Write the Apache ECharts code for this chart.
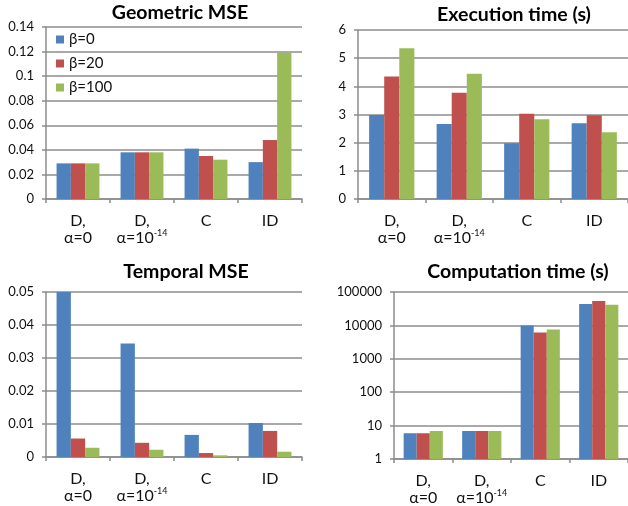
<!DOCTYPE html>
<html><head><meta charset="utf-8">
<script src="https://cdn.jsdelivr.net/npm/echarts@6/dist/echarts.min.js"></script>
<style>html,body{margin:0;padding:0;background:#fff}#c{width:628px;height:506px}</style>
</head><body><div id="c"></div>
<script>
var categories = ['D,\nα=0', 'D,\nα=10^-14', 'C', 'ID'];
var seriesNames = ['β=0', 'β=20', 'β=100'];
var colors = ['#4F81BD', '#C0504D', '#9BBB59'];
var titles = ['Geometric MSE', 'Execution time (s)', 'Temporal MSE', 'Computation time (s)'];

var geoB0 = [0.029, 0.038, 0.041, 0.030];
var geoB20 = [0.029, 0.038, 0.035, 0.048];
var geoB100 = [0.029, 0.038, 0.032, 0.119];

var exeB0 = [2.98, 2.66, 1.98, 2.69];
var exeB20 = [4.35, 3.77, 3.03, 2.97];
var exeB100 = [5.35, 4.45, 2.83, 2.37];

var tmpB0 = [0.050, 0.0344, 0.0067, 0.0103];
var tmpB20 = [0.0056, 0.0043, 0.0012, 0.0079];
var tmpB100 = [0.0028, 0.0022, 0.0005, 0.0016];

var cmpB0 = [5.9, 6.9, 10000, 44000];
var cmpB20 = [5.9, 6.9, 6100, 54000];
var cmpB100 = [6.9, 6.9, 7600, 41500];

var geoTicks = {min: 0, max: 0.14, interval: 0.02};
var exeTicks = {min: 0, max: 6, interval: 1};
var tmpTicks = {min: 0, max: 0.05, interval: 0.01};
var cmpTicks = {min: 1, max: 100000};

var FONT = 'Lato';
var gridColor = '#8c8c8c';

var grids = [
  {left: 46, top: 27, width: 256, height: 172},
  {left: 358, top: 30, width: 270, height: 169},
  {left: 46, top: 292, width: 256, height: 165},
  {left: 394, top: 292, width: 234, height: 167}
];
var titlePos = [[180, 3], [514, 5], [186, 262], [518, 262]];

function catFormatter(v) {
  return v.replace('^-14', '{sup|-14}');
}

var xAxes = [], yAxes = [], series = [], titleArr = [];
var data = [[geoB0, geoB20, geoB100], [exeB0, exeB20, exeB100], [tmpB0, tmpB20, tmpB100], [cmpB0, cmpB20, cmpB100]];
var ticks = [geoTicks, exeTicks, tmpTicks, cmpTicks];

for (var i = 0; i < 4; i++) {
  titleArr.push({
    text: titles[i], left: titlePos[i][0], top: titlePos[i][1], textAlign: 'center', padding: 0,
    textStyle: {fontFamily: FONT, fontWeight: 'bold', fontSize: 19.5, color: '#000'}
  });
  xAxes.push({
    type: 'category', gridIndex: i, data: categories,
    axisLine: {lineStyle: {color: gridColor, width: 1.5}},
    axisTick: {show: true, length: 4, lineStyle: {color: gridColor, width: 1.5}},
    axisLabel: {
      interval: 0, hideOverlap: false,
      fontFamily: FONT, fontSize: 16, color: '#111', lineHeight: 17, margin: 13,
      formatter: catFormatter,
      rich: {sup: {fontFamily: FONT, fontSize: 9, color: '#111', padding: [0, 0, 8, 0]}}
    }
  });
  var y = {
    gridIndex: i,
    min: ticks[i].min, max: ticks[i].max,
    axisLine: {show: true, lineStyle: {color: gridColor, width: 1.5}},
    axisTick: {show: true, length: 4, lineStyle: {color: gridColor, width: 1.5}},
    splitLine: {show: true, lineStyle: {color: gridColor, width: 1.5}},
    axisLabel: {fontFamily: FONT, fontSize: 13, color: '#111', margin: 12}
  };
  if (i === 3) {
    y.type = 'log'; y.logBase = 10;
    y.axisLabel.formatter = function (v) { return String(Math.round(v)); };
  } else {
    y.type = 'value'; y.interval = ticks[i].interval;
    y.axisLabel.formatter = function (v) { return String(+v.toFixed(4)); };
  }
  yAxes.push(y);
  for (var s = 0; s < 3; s++) {
    series.push({
      type: 'bar', name: seriesNames[s], xAxisIndex: i, yAxisIndex: i,
      data: data[i][s], barGap: '0%', barCategoryGap: '33%',
      itemStyle: {color: colors[s]}, silent: true, animation: false
    });
  }
}

var chart = echarts.init(document.getElementById('c'), null, {renderer: 'canvas'});
chart.setOption({
  animation: false,
  title: titleArr,
  legend: {
    data: seriesNames, orient: 'vertical', left: 56, top: 32, itemWidth: 8, itemHeight: 8, itemGap: 9,
    icon: 'rect', padding: 0,
    textStyle: {fontFamily: FONT, fontSize: 15, color: '#111'}
  },
  grid: grids,
  xAxis: xAxes,
  yAxis: yAxes,
  series: series
});
</script></body></html>
